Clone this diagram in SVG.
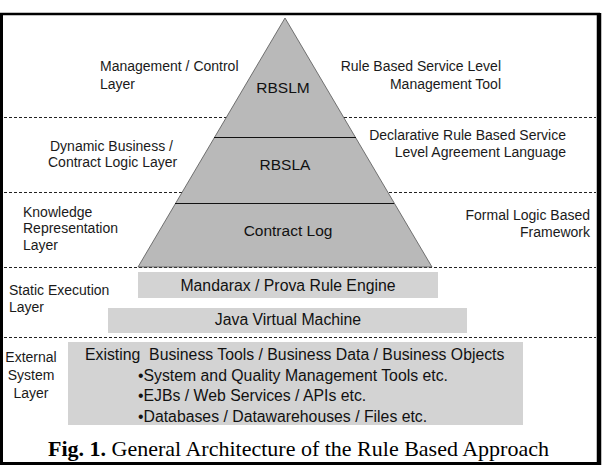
<svg xmlns="http://www.w3.org/2000/svg" width="604" height="474" viewBox="0 0 604 474">
<style>
.lbl{font-family:"Liberation Sans",Arial,sans-serif;font-size:14px;fill:#1a1a1a}
.pl{font-family:"Liberation Sans",Arial,sans-serif;font-size:15.5px;fill:#111}
.bx{font-family:"Liberation Sans",Arial,sans-serif;font-size:15.8px;fill:#111}
.dash{stroke:#222;stroke-width:1;stroke-dasharray:3 2;fill:none}
.gbox{fill:#d3d3d3}
.cap{font-family:"Liberation Serif","Times New Roman",serif;font-size:22px;fill:#000}
</style>
<rect x="0" y="0" width="604" height="474" fill="#fff"/>
<g id="frame">
<line x1="0" y1="14" x2="600" y2="14" stroke="#000" stroke-width="2.5"/>
<line x1="1.5" y1="13" x2="1.5" y2="465" stroke="#000" stroke-width="3"/>
<line x1="599" y1="13" x2="599" y2="465" stroke="#000" stroke-width="4.5"/>
<line x1="0" y1="463.5" x2="601" y2="463.5" stroke="#000" stroke-width="3"/>
</g>
<g id="layer-lines">
<line class="dash" x1="4" y1="117.5" x2="596" y2="117.5"/>
<line class="dash" x1="4" y1="192.5" x2="596" y2="192.5"/>
<line class="dash" x1="4" y1="267.5" x2="596" y2="267.5"/>
<line class="dash" x1="4" y1="337.5" x2="596" y2="337.5"/>
</g>
<g id="pyramid">
<polygon points="285,18 432,267 138,267" fill="#b9b9b9" stroke="#555" stroke-width="0.8"/>
<line x1="214" y1="137.5" x2="356" y2="137.5" stroke="#111" stroke-width="1"/>
<line x1="175" y1="203.5" x2="394" y2="203.5" stroke="#111" stroke-width="1"/>
</g>
<g id="rbslm"><text class="pl" x="283" y="93" text-anchor="middle">RBSLM</text></g>
<g id="rbsla"><text class="pl" x="285" y="170" text-anchor="middle">RBSLA</text></g>
<g id="contractlog"><text class="pl" x="288" y="236" text-anchor="middle">Contract Log</text></g>
<g id="left-labels">
<text class="lbl" x="100" y="71">Management / Control</text>
<text class="lbl" x="100" y="89">Layer</text>
<text class="lbl" x="50" y="151">Dynamic Business /</text>
<text class="lbl" x="48" y="167">Contract Logic Layer</text>
<text class="lbl" x="23" y="217">Knowledge</text>
<text class="lbl" x="23" y="233">Representation</text>
<text class="lbl" x="23" y="250">Layer</text>
<text class="lbl" x="9" y="295">Static Execution</text>
<text class="lbl" x="9" y="312">Layer</text>
<text class="lbl" x="31" y="362" text-anchor="middle">External</text>
<text class="lbl" x="31" y="380" text-anchor="middle">System</text>
<text class="lbl" x="31" y="398" text-anchor="middle">Layer</text>
</g>
<g id="right-labels">
<text class="lbl" x="501" y="71" text-anchor="end">Rule Based Service Level</text>
<text class="lbl" x="501" y="89" text-anchor="end">Management Tool</text>
<text class="lbl" x="566" y="140" text-anchor="end">Declarative Rule Based Service</text>
<text class="lbl" x="566" y="157" text-anchor="end">Level Agreement Language</text>
<text class="lbl" x="590" y="220" text-anchor="end">Formal Logic Based</text>
<text class="lbl" x="590" y="237" text-anchor="end">Framework</text>
</g>
<g id="rule-engine">
<rect class="gbox" x="138" y="272" width="300" height="26"/>
<text class="bx" x="288" y="291" text-anchor="middle">Mandarax / Prova Rule Engine</text>
</g>
<g id="jvm">
<rect class="gbox" x="108" y="308" width="359" height="25"/>
<text class="bx" x="288" y="325" text-anchor="middle">Java Virtual Machine</text>
</g>
<g id="external">
<rect class="gbox" x="68" y="342" width="455" height="83"/>
<text class="bx" x="85" y="360" xml:space="preserve">Existing  Business Tools / Business Data / Business Objects</text>
<text class="bx" x="138" y="381">•System and Quality Management Tools etc.</text>
<text class="bx" x="138" y="401">•EJBs / Web Services / APIs etc.</text>
<text class="bx" x="138" y="422">•Databases / Datawarehouses / Files etc.</text>
</g>
<g id="caption">
<text class="cap" x="48" y="456"><tspan font-weight="bold">Fig. 1.</tspan> General Architecture of the Rule Based Approach</text>
</g>
</svg>
